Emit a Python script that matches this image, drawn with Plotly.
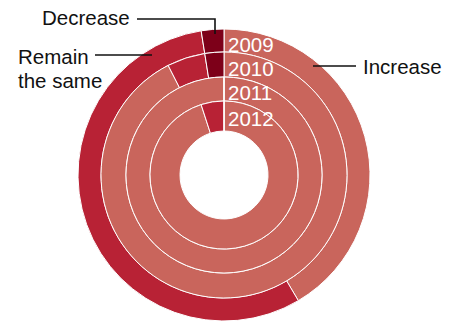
import plotly.graph_objects as go

# Survey shares (%) per year: Increase / Remain the same / Decrease
years = ["2009", "2010", "2011", "2012"]
increase = [41.5, 92.5, 100.0, 95.0]
remain = [56.0, 5.0, 0.0, 5.0]
decrease = [2.5, 2.5, 0.0, 0.0]
categories = ["Increase", "Remain the same", "Decrease"]

colors = ["#C9655C", "#B82235", "#7D0019"]

W, H = 460, 321
cx, cy = 224, 175
# ring boundaries (px), outermost ring = first year
bounds = [146, 123, 98, 74, 44]


def px_x(x):
    return x / W


def px_y(y):
    return 1 - y / H


fig = go.Figure()
for i, yr in enumerate(years):
    r_out, r_in = bounds[i], bounds[i + 1]
    fig.add_trace(go.Pie(
        labels=categories,
        values=[increase[i], remain[i], decrease[i]],
        sort=False,
        direction="clockwise",
        rotation=0,
        hole=r_in / r_out,
        textinfo="none",
        hoverinfo="label+value",
        marker=dict(colors=colors, line=dict(color="white", width=1)),
        domain=dict(x=[px_x(cx - r_out), px_x(cx + r_out)],
                    y=[px_y(cy + r_out), px_y(cy - r_out)]),
        showlegend=False,
        name=yr,
    ))

font = dict(family="Liberation Sans, Arial, sans-serif", size=20.5, color="#111111")
white = dict(family="Liberation Sans, Arial, sans-serif", size=20.5, color="white")

annotations = []
year_y = [44, 68.5, 93, 118]
for yr, yy in zip(years, year_y):
    annotations.append(dict(x=px_x(226), y=px_y(yy), xref="paper", yref="paper",
                            text=yr, showarrow=False, xanchor="left",
                            yanchor="middle", font=white))

callouts = [("Decrease", 40, 17), ("Remain", 16, 56), ("the same", 16, 80),
            ("Increase", 361, 66)]
for txt, x, y in callouts:
    annotations.append(dict(x=px_x(x), y=px_y(y), xref="paper", yref="paper",
                            text=txt, showarrow=False, xanchor="left",
                            yanchor="middle", font=font))

line_style = dict(color="#111111", width=1.6)
leaders = [
    [(137, 19), (215, 19), (215, 34)],
    [(95, 55), (152, 55)],
    [(313, 66), (356, 66)],
]
shapes = []
for pts in leaders:
    path = "M " + " L ".join(f"{px_x(x):.5f},{px_y(y):.5f}" for x, y in pts)
    shapes.append(dict(type="path", path=path, xref="paper", yref="paper",
                       line=line_style))

fig.update_layout(
    width=W, height=H,
    margin=dict(l=0, r=0, t=0, b=0),
    paper_bgcolor="white",
    plot_bgcolor="white",
    annotations=annotations,
    shapes=shapes,
)

fig.write_html("out.html")
